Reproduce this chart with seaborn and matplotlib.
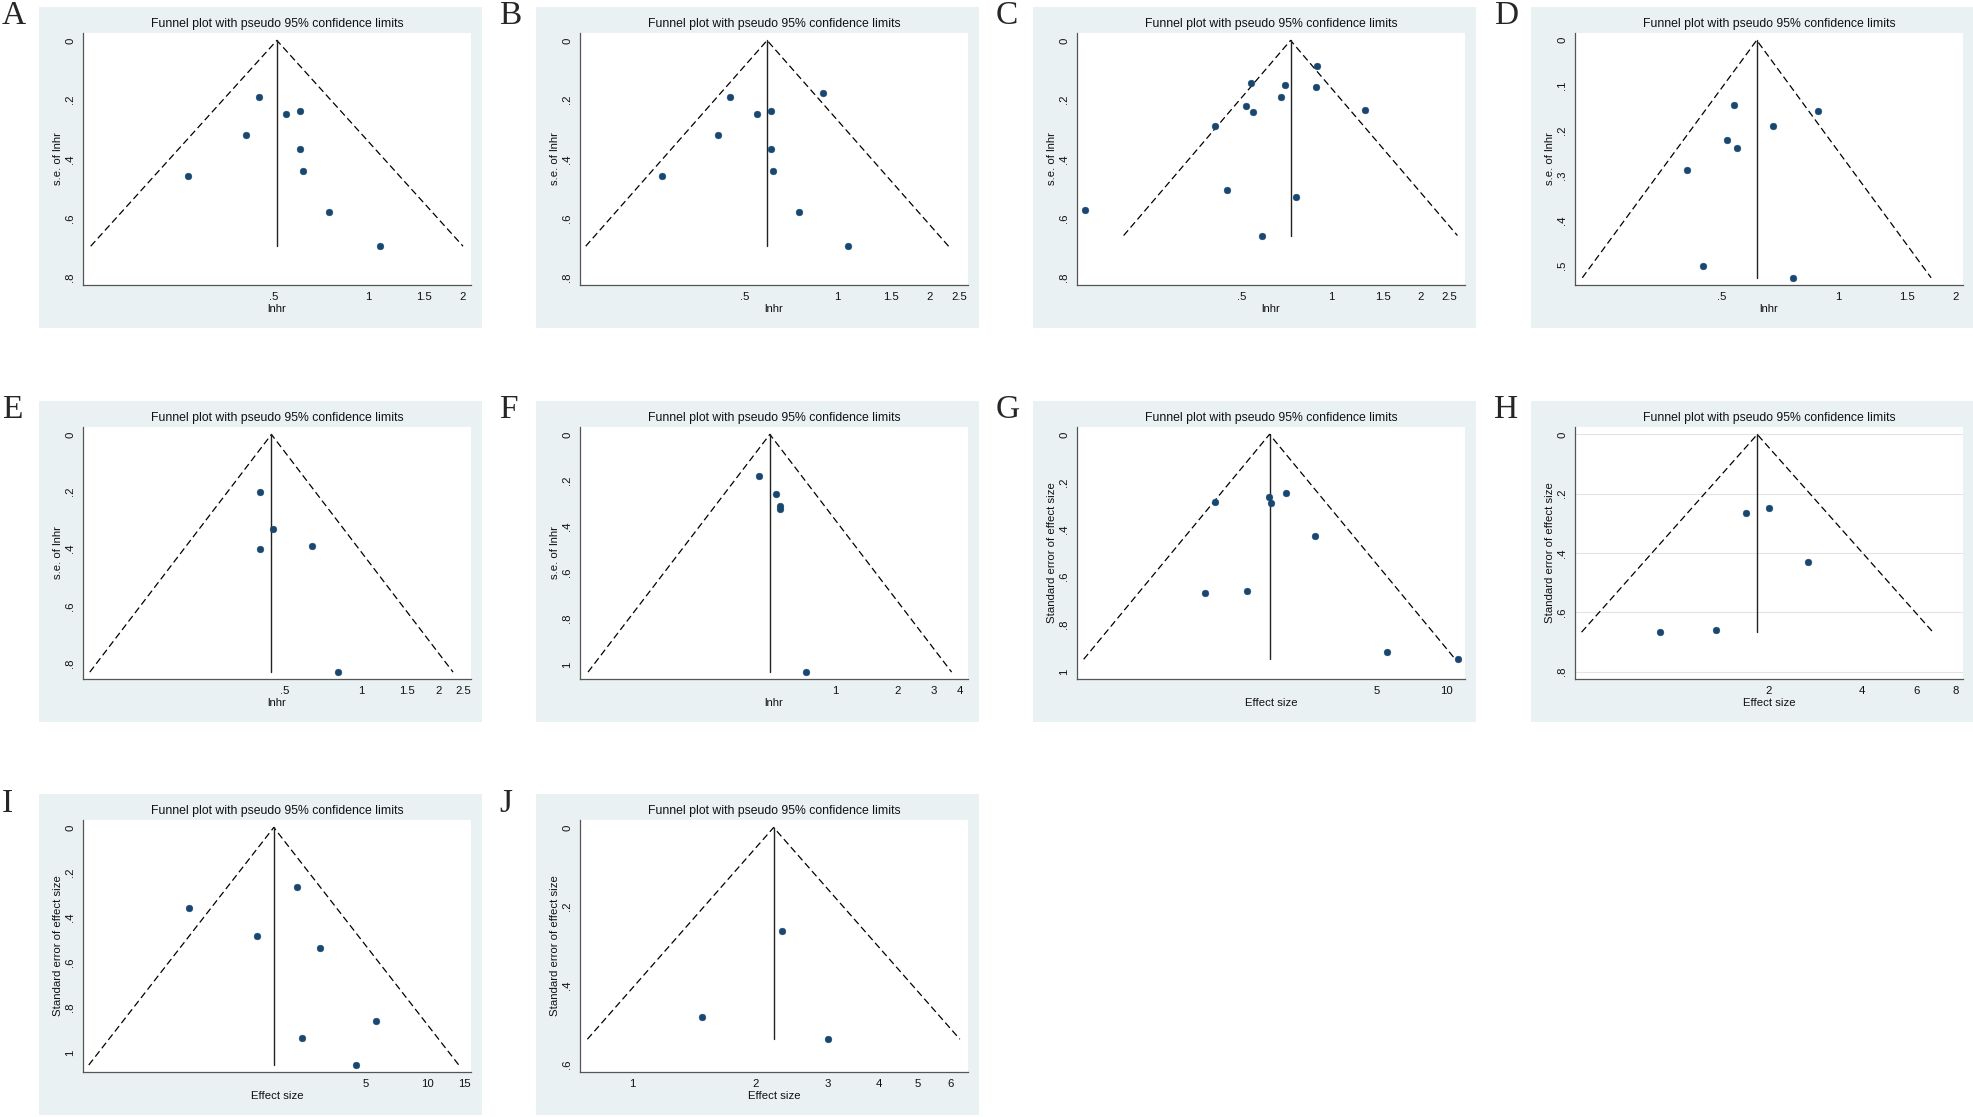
import numpy as np
import pandas as pd
import matplotlib
matplotlib.use("Agg")
import matplotlib.pyplot as plt
from matplotlib.patches import Rectangle
import seaborn as sns

# effect sizes (hr / effect size) and their standard errors
A_x = [0.448, 0.547, 0.608, 0.408, 0.608, 0.618, 0.268, 0.750, 1.087]
A_se = [0.190, 0.247, 0.238, 0.318, 0.367, 0.441, 0.459, 0.580, 0.695]

B_x = [0.448, 0.900, 0.547, 0.608, 0.408, 0.608, 0.618, 0.268, 0.750, 1.087]
B_se = [0.190, 0.177, 0.247, 0.238, 0.318, 0.367, 0.441, 0.459, 0.580, 0.695]

C_x = [0.900, 0.537, 0.699, 0.888, 0.678, 0.517, 0.547, 1.300, 0.407, 0.448, 0.761, 0.149, 0.588]
C_se = [0.088, 0.144, 0.151, 0.158, 0.190, 0.222, 0.241, 0.235, 0.288, 0.504, 0.528, 0.572, 0.659]

D_x = [0.538, 0.888, 0.677, 0.518, 0.547, 0.408, 0.448, 0.762]
D_se = [0.144, 0.156, 0.190, 0.221, 0.240, 0.287, 0.501, 0.527]

E_x = [0.400, 0.450, 0.400, 0.639, 0.810]
E_se = [0.200, 0.330, 0.402, 0.391, 0.832]

F_x = [0.428, 0.517, 0.538, 0.538, 0.719]
F_se = [0.181, 0.258, 0.312, 0.324, 1.032]

G_x = [0.985, 1.694, 1.740, 2.005, 2.690, 0.895, 1.358, 5.510, 11.24]
G_se = [0.285, 0.265, 0.290, 0.246, 0.430, 0.668, 0.661, 0.918, 0.948]

H_x = [1.682, 2.005, 2.680, 0.891, 1.352]
H_se = [0.264, 0.247, 0.429, 0.667, 0.660]

I_x = [2.320, 0.691, 1.483, 3.000, 5.610, 2.440, 4.500]
I_se = [0.263, 0.356, 0.481, 0.536, 0.858, 0.933, 1.055]

J_x = [2.320, 1.481, 3.012]
J_se = [0.262, 0.480, 0.536]

TITLE = "Funnel plot with pseudo 95% confidence limits"

panels = [
    dict(tag="A", x=A_x, se=A_se, xlim=(0.124, 2.12), ylim=(0.826, -0.025),
         xt=[0.5, 1, 1.5, 2], yt=[0, 0.2, 0.4, 0.6, 0.8], xl="lnhr", yl="s.e. of lnhr"),
    dict(tag="B", x=B_x, se=B_se, xlim=(0.145, 2.67), ylim=(0.826, -0.025),
         xt=[0.5, 1, 1.5, 2, 2.5], yt=[0, 0.2, 0.4, 0.6, 0.8], xl="lnhr", yl="s.e. of lnhr"),
    dict(tag="C", x=C_x, se=C_se, xlim=(0.140, 2.82), ylim=(0.826, -0.025),
         xt=[0.5, 1, 1.5, 2, 2.5], yt=[0, 0.2, 0.4, 0.6, 0.8], xl="lnhr", yl="s.e. of lnhr"),
    dict(tag="D", x=D_x, se=D_se, xlim=(0.210, 2.09), ylim=(0.543, -0.016),
         xt=[0.5, 1, 1.5, 2], yt=[0, 0.1, 0.2, 0.3, 0.4, 0.5], xl="lnhr", yl="s.e. of lnhr"),
    dict(tag="E", x=E_x, se=E_se, xlim=(0.082, 2.67), ylim=(0.856, -0.026),
         xt=[0.5, 1, 1.5, 2, 2.5], yt=[0, 0.2, 0.4, 0.6, 0.8], xl="lnhr", yl="s.e. of lnhr"),
    dict(tag="F", x=F_x, se=F_se, xlim=(0.0583, 4.37), ylim=(1.062, -0.032),
         xt=[1, 2, 3, 4], yt=[0, 0.2, 0.4, 0.6, 0.8, 1], xl="lnhr", yl="s.e. of lnhr"),
    dict(tag="G", x=G_x, se=G_se, xlim=(0.249, 12.05), ylim=(1.031, -0.031),
         xt=[5, 10], yt=[0, 0.2, 0.4, 0.6, 0.8, 1], xl="Effect size",
         yl="Standard error of effect size"),
    dict(tag="H", x=H_x, se=H_se, xlim=(0.472, 8.47), ylim=(0.825, -0.025),
         xt=[2, 4, 6, 8], yt=[0, 0.2, 0.4, 0.6, 0.8], xl="Effect size",
         yl="Standard error of effect size", grid=True),
    dict(tag="I", x=I_x, se=I_se, xlim=(0.212, 16.2), ylim=(1.086, -0.033),
         xt=[5, 10, 15], yt=[0, 0.2, 0.4, 0.6, 0.8, 1], xl="Effect size",
         yl="Standard error of effect size"),
    dict(tag="J", x=J_x, se=J_se, xlim=(0.743, 6.63), ylim=(0.619, -0.019),
         xt=[1, 2, 3, 4, 5, 6], yt=[0, 0.2, 0.4, 0.6], xl="Effect size",
         yl="Standard error of effect size"),
]

sns.set_style("white")
plt.rcParams["font.family"] = ["Liberation Sans", "DejaVu Sans"]

W, H = 1974, 1117
fig = plt.figure(figsize=(W / 100, H / 100), dpi=100)
fig.patch.set_facecolor("white")

BG = "#e9f1f3"
DOT = "#1a476f"
AX = "#555555"

box_x = [39, 536, 1033, 1531]
box_y = [7, 401, 794]
box_w, box_h = 443, 321


def stata_fmt(v):
    s = f"{v:g}"
    if s.startswith("0."):
        s = s[1:]
    return s


for k, p in enumerate(panels):
    r, c = divmod(k, 4)
    bx, by = box_x[c], box_y[r]

    # light panel background like stata graphregion
    fig.patches.append(Rectangle((bx / W, 1 - (by + box_h) / H), box_w / W, box_h / H,
                                 transform=fig.transFigure, facecolor=BG,
                                 edgecolor="none", zorder=-10))
    fig.text((bx - 37) / W, 1 - (by - 6) / H, p["tag"], family="Liberation Serif",
             fontsize=24, ha="left", va="top")

    ax = fig.add_axes([(bx + 44) / W, 1 - (by + 26 + 252) / H, 388 / W, 252 / H])
    ax.set_facecolor("white")

    df = pd.DataFrame({"es": p["x"], "se": p["se"]})
    # fixed effect pooled estimate on the log scale
    w = 1 / df.se ** 2
    pooled = np.exp(np.sum(w * np.log(df.es)) / np.sum(w))
    se_max = df.se.max()
    lo = pooled * np.exp(-1.96 * se_max)
    hi = pooled * np.exp(1.96 * se_max)

    if p.get("grid"):
        for yv in p["yt"]:
            ax.axhline(yv, color="#e4e4e4", lw=0.8, zorder=0)

    ax.plot([lo, pooled, hi], [se_max, 0, se_max], color="black", lw=0.9,
            linestyle=(0, (5.5, 3)), zorder=2)
    ax.plot([pooled, pooled], [0, se_max], color="#222222", lw=1.0, zorder=2)
    sns.scatterplot(data=df, x="es", y="se", ax=ax, color=DOT, s=24,
                    edgecolor=DOT, linewidth=0.3, zorder=3, legend=False)

    ax.set_xscale("log")
    ax.set_xlim(*p["xlim"])
    ax.set_ylim(*p["ylim"])
    ax.set_xticks(p["xt"])
    ax.set_xticklabels([stata_fmt(v) for v in p["xt"]])
    ax.xaxis.set_minor_locator(matplotlib.ticker.NullLocator())
    ax.set_yticks(p["yt"])
    ax.set_yticklabels([stata_fmt(v) for v in p["yt"]], rotation=90, va="center")

    for side in ["top", "right"]:
        ax.spines[side].set_visible(False)
    for side in ["left", "bottom"]:
        ax.spines[side].set_color(AX)
        ax.spines[side].set_linewidth(0.9)
    ax.tick_params(axis="both", direction="out", length=3.2, width=0.8, color=AX,
                   labelsize=8.2, labelcolor="#111111")
    ax.tick_params(axis="x", pad=1.5)
    ax.tick_params(axis="y", pad=2.5)

    ax.set_xlabel(p["xl"], fontsize=8.2, labelpad=1.5, color="#111111")
    ax.set_ylabel(p["yl"], fontsize=8.2, labelpad=1.5, color="#111111")
    ax.set_title(TITLE, fontsize=8.8, pad=4, color="#111111")

fig.savefig("out.png", dpi=100, facecolor="white")
